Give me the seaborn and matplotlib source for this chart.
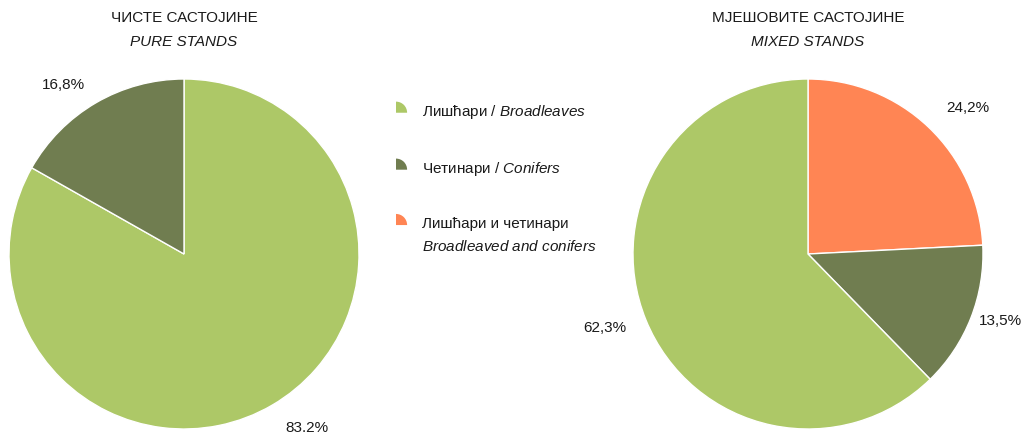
import numpy as np
import matplotlib.pyplot as plt
import seaborn as sns
from matplotlib.patches import Patch, Wedge
from matplotlib.legend_handler import HandlerPatch

# data
pure_values = [83.2, 16.8]
pure_labels = ['83.2%', '16,8%']
pure_colors = ['#adc867', '#707d50']

mixed_values = [24.2, 13.5, 62.3]
mixed_labels = ['24,2%', '13,5%', '62,3%']
mixed_colors = ['#ff8554', '#707d50', '#adc867']

legend_labels = ['Лишћари / $\\mathit{Broadleaves}$',
                 'Четинари / $\\mathit{Conifers}$',
                 'Лишћари и четинари\n$\\mathit{Broadleaved\\ and\\ conifers}$']
legend_colors = ['#adc867', '#707d50', '#ff8554']

# label distance from centre (radius units), per wedge
pure_dist = [1.15, 1.12]
mixed_dist = [1.15, 1.05, 1.12]

sns.set_theme(style='white')
plt.rcParams['font.family'] = ['Liberation Sans', 'DejaVu Sans']
plt.rcParams['mathtext.fontset'] = 'custom'
plt.rcParams['mathtext.it'] = 'Liberation Sans:italic'
plt.rcParams['mathtext.rm'] = 'Liberation Sans'

fig = plt.figure(figsize=(10.24, 4.34), dpi=100)
W, H = 1024, 434
ax1 = fig.add_axes([9 / W, 5 / H, 350 / W, 350 / H])
ax2 = fig.add_axes([633 / W, 5 / H, 350 / W, 350 / H])

fs = 11
txt = dict(fontsize=fs, color='#1a1a1a')


def draw_pie(ax, values, labels, colors, dists):
    wedges, _ = ax.pie(values, colors=colors, startangle=90, counterclock=False,
                       wedgeprops=dict(edgecolor='white', linewidth=1))
    for w, lab, d in zip(wedges, labels, dists):
        ang = np.deg2rad((w.theta1 + w.theta2) / 2)
        x, y = d * np.cos(ang), d * np.sin(ang)
        ax.text(x, y, lab, ha='left' if x > 0 else 'right', va='center', **txt)
    ax.set_aspect('equal')
    ax.set_xlim(-1, 1)
    ax.set_ylim(-1, 1)


draw_pie(ax1, pure_values, pure_labels, pure_colors, pure_dist)
draw_pie(ax2, mixed_values, mixed_labels, mixed_colors, mixed_dist)

# titles
fig.text(184 / W, 1 - 18 / H, 'ЧИСТЕ САСТОЈИНЕ', ha='center', va='center', **txt)
fig.text(184 / W, 1 - 42 / H, 'PURE STANDS', ha='center', va='center', style='italic', **txt)
fig.text(808 / W, 1 - 18 / H, 'МЈЕШОВИТЕ САСТОЈИНЕ', ha='center', va='center', **txt)
fig.text(808 / W, 1 - 42 / H, 'MIXED STANDS', ha='center', va='center', style='italic', **txt)


class QuarterHandler(HandlerPatch):
    def create_artists(self, legend, orig_handle, xdescent, ydescent,
                       width, height, fontsize, trans):
        r = 8
        yoff = getattr(orig_handle, 'yoff', 0) + 2.5
        w = Wedge((-xdescent, -ydescent + height / 2 - r / 2 + yoff), r, 0, 90,
                  facecolor=orig_handle.get_facecolor(), edgecolor='none',
                  transform=trans)
        return [w]


handles = [Patch(facecolor=c) for c in legend_colors]
handles[2].yoff = 9
leg = fig.legend(handles, legend_labels, loc='upper left',
                 bbox_to_anchor=(396 / W, 1 - 103 / H), frameon=False,
                 fontsize=fs, labelspacing=2.55, handlelength=0.9,
                 handletextpad=0.8, borderpad=0, borderaxespad=0,
                 handler_map={Patch: QuarterHandler()})
for t in leg.get_texts():
    t.set_linespacing(1.65)
    t.set_color('#1a1a1a')

fig.savefig('out.png', dpi=100)
